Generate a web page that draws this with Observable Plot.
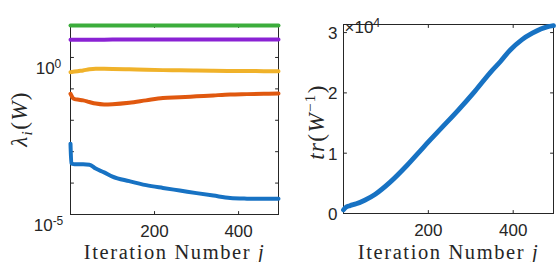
<!DOCTYPE html>
<html><head><meta charset="utf-8">
<script src="https://cdn.jsdelivr.net/npm/d3@7"></script>
<script src="https://cdn.jsdelivr.net/npm/@observablehq/plot@0.6"></script>
<style>
body{margin:0;background:#fff;}
#wrap{position:relative;width:556px;height:262px;overflow:hidden;}
#left,#right{position:absolute;top:0;}
#left{left:0;}
#right{left:290px;}
svg{overflow:visible;}
</style></head><body>
<div id="wrap"><div id="left"></div><div id="right"></div></div>
<script>
// ---------- data ----------
const iter    = [0, 2, 5, 10, 20, 30, 45, 60, 80, 100, 140, 180, 220, 260, 300, 340, 380, 420, 460, 495];
const lambda1 = [1.8e-3, 4.3e-4, 4.1e-4, 4.0e-4, 3.95e-4, 3.95e-4, 3.85e-4, 2.9e-4, 2.2e-4, 1.6e-4, 1.15e-4, 8.6e-5, 7.0e-5, 5.8e-5, 4.8e-5, 4.0e-5, 3.35e-5, 3.2e-5, 3.15e-5, 3.15e-5];
const lambda2 = [0.070, 0.062, 0.052, 0.047, 0.045, 0.043, 0.038, 0.034, 0.032, 0.0325, 0.036, 0.043, 0.051, 0.054, 0.058, 0.062, 0.066, 0.068, 0.070, 0.071];
const lambda3 = [0.34, 0.342, 0.347, 0.355, 0.37, 0.385, 0.42, 0.437, 0.435, 0.43, 0.42, 0.405, 0.395, 0.39, 0.383, 0.377, 0.372, 0.369, 0.367, 0.366];
const lambda4 = [3.65, 3.65, 3.66, 3.66, 3.67, 3.67, 3.68, 3.68, 3.69, 3.7, 3.7, 3.7, 3.7, 3.7, 3.7, 3.7, 3.7, 3.7, 3.7, 3.7];
const lambda5 = [10.4, 10.4, 10.4, 10.4, 10.4, 10.4, 10.4, 10.4, 10.4, 10.4, 10.4, 10.4, 10.4, 10.4, 10.4, 10.4, 10.4, 10.4, 10.4, 10.4];
const seriesColors = ["#1772c3", "#e0580f", "#f0b22a", "#8a22d4", "#3cad3c"];

const trIter = [0, 5, 15, 30, 50, 75, 110, 150, 190, 230, 270, 310, 350, 370, 390, 420, 445, 465, 480, 495];
const trW    = [600, 1000, 1300, 1600, 2200, 3200, 5200, 8000, 11100, 14100, 17100, 20300, 23700, 25200, 26900, 28800, 29900, 30600, 30950, 31150];

const xTicks = [200, 400];
const yTicksLeft = [1e-5, 1e-4, 1e-3, 1e-2, 1e-1, 1e0];
const yLabelsLeft = [1e-5, 1e0];
const yTicksRight = [0, 1e4, 2e4, 3e4];

const xLabel = "Iteration Number j";
const yLabelLeft = "λi(W)";
const yLabelRight = "tr(W-1)";
const expLabel = "×10^4";

// ---------- helpers ----------
const ink = "#262626";
const tickShape = {draw(ctx, l) { ctx.moveTo(0, 0); ctx.lineTo(0, -l); }};
function frameTicks(xt, yt) {
  const o = {length: 3, anchor: "start", shape: tickShape, stroke: ink, strokeWidth: 1};
  return [
    Plot.vector(xt, {...o, x: d => d, frameAnchor: "bottom", rotate: 0}),
    Plot.vector(xt, {...o, x: d => d, frameAnchor: "top", rotate: 180}),
    Plot.vector(yt, {...o, y: d => d, frameAnchor: "left", rotate: 90}),
    Plot.vector(yt, {...o, y: d => d, frameAnchor: "right", rotate: -90})
  ];
}
const serif = "Liberation Serif, Times New Roman, serif";
const sans = "Liberation Sans, Arial, Helvetica, sans-serif";

const series = [lambda1, lambda2, lambda3, lambda4, lambda5].map((vals, k) =>
  iter.map((j, i) => ({j, v: vals[i], s: k})));

const left = Plot.plot({
  width: 290, height: 262,
  marginLeft: 70, marginRight: 12, marginTop: 24, marginBottom: 48,
  x: {domain: [0, 495]},
  y: {type: "log", domain: [1e-5, 11.2]},
  style: {fontFamily: sans, fontSize: "17px", color: ink, background: "white"},
  marks: [
    Plot.axisX({ticks: xTicks, tickSize: 0, tickPadding: 10, tickFormat: d => String(d), label: null}),
    Plot.axisY({ticks: yLabelsLeft, tickSize: 0, tickPadding: 22, textAnchor: "middle", dy: 11,
      tickFormat: d => "10^" + Math.round(Math.log10(d)), label: null}),
    ...frameTicks(xTicks, yTicksLeft),
    Plot.frame({stroke: ink, strokeWidth: 1}),
    ...series.map((data, k) => Plot.line(data, {x: "j", y: "v", stroke: seriesColors[k], strokeWidth: 4, curve: "monotone-x"})),
    Plot.text([xLabel], {text: d => d, frameAnchor: "bottom", dy: 44, fontFamily: serif, fontSize: 20.5, fill: ink}),
    Plot.text([yLabelLeft], {text: d => d, frameAnchor: "left", rotate: -90, dx: -51, dy: 0, fontFamily: serif, fontSize: 23, fill: ink})
  ]
});

const trData = trIter.map((j, i) => ({j, v: trW[i]}));
const right = Plot.plot({
  width: 266, height: 262,
  marginLeft: 53, marginRight: 3, marginTop: 24, marginBottom: 49,
  x: {domain: [0, 495]},
  y: {domain: [0, 31340]},
  style: {fontFamily: sans, fontSize: "17px", color: ink, background: "white"},
  marks: [
    Plot.axisX({ticks: xTicks, tickSize: 0, tickPadding: 10, tickFormat: d => String(d), label: null}),
    Plot.axisY({ticks: yTicksRight, tickSize: 0, tickPadding: 6, dy: 1, tickFormat: d => String(d / 1e4), label: null}),
    ...frameTicks(xTicks, yTicksRight),
    Plot.frame({stroke: ink, strokeWidth: 1}),
    Plot.line(trData, {x: "j", y: "v", stroke: seriesColors[0], strokeWidth: 4.8, curve: "monotone-x"}),
    Plot.text([xLabel], {text: d => d, frameAnchor: "bottom", dy: 45, fontFamily: serif, fontSize: 20.5, fill: ink}),
    Plot.text([yLabelRight], {text: d => d, frameAnchor: "left", rotate: -90, dx: -27, dy: 3, fontFamily: serif, fontSize: 23, fill: ink}),
    Plot.text([expLabel], {text: d => d, frameAnchor: "top-left", textAnchor: "start", dx: 1, dy: -4, fontFamily: sans, fontSize: 17, fill: ink})
  ]
});

document.getElementById("left").append(left);
document.getElementById("right").append(right);

// ---------- rich text (italic / sub / superscripts) ----------
function rich(el, parts, style) {
  const t = d3.select(el);
  t.text(null);
  t.attr("dy", null);
  if (style) t.attr("style", style);
  parts.forEach(p => {
    const s = t.append("tspan").text(p.t);
    if (p.i) s.attr("font-style", "italic");
    if (p.fs) s.attr("font-size", p.fs);
    if (p.dy) s.attr("dy", p.dy);
  });
}
function center(el) {
  el.setAttribute("text-anchor", "start");
  const x0 = +(el.getAttribute("x") || 0);
  const b = el.getBBox();
  el.setAttribute("x", 2 * x0 - b.x - b.width / 2);
}
for (const svg of [left, right]) {
  svg.querySelectorAll("text").forEach(el => {
    const s = el.textContent;
    if (s === xLabel) { rich(el, [{t: "Iteration Number "}, {t: "j", i: true}], "letter-spacing:1.6px"); center(el); }
    else if (s === yLabelLeft) { rich(el, [{t: "λ", i: true}, {t: "i", i: true, fs: 15, dy: 5}, {t: "(", dy: -5}, {t: "W", i: true}, {t: ")"}], "letter-spacing:1.4px"); center(el); }
    else if (s === yLabelRight) { rich(el, [{t: "tr", i: true}, {t: "("}, {t: "W", i: true}, {t: "−1", fs: 15, dy: -9}, {t: ")", dy: 9}], "letter-spacing:1.4px"); center(el); }
    else if (s === expLabel) rich(el, [{t: "×10"}, {t: "4", fs: 12.5, dy: -6}]);
    else if (/^10\^/.test(s)) rich(el, [{t: "10"}, {t: s.slice(3), fs: 12, dy: -6}]);
  });
}
</script>
</body></html>
